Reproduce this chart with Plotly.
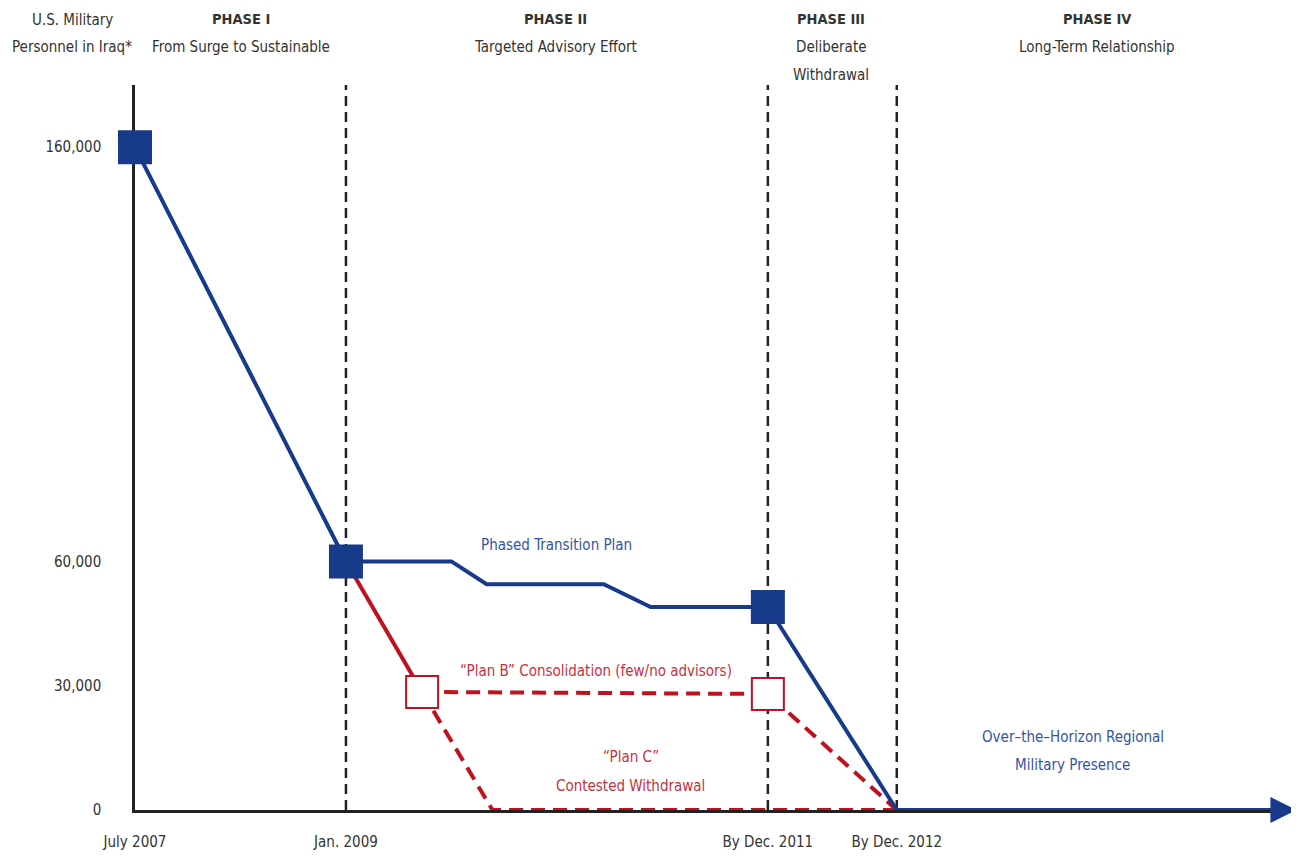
import plotly.graph_objects as go

# ---- data (months since July 2007, troop levels) ----
tick_months = [0, 18, 54, 65]
tick_labels = ["July 2007", "Jan. 2009", "By Dec. 2011", "By Dec. 2012"]
y_ticks = [0, 30000, 60000, 160000]
y_tick_labels = ["0", "30,000", "60,000", "160,000"]

phased_x = [0, 18, 27, 30, 40, 44, 54, 65, 97.5]
phased_y = [160000, 60000, 60000, 54500, 54500, 49000, 49000, 0, 0]
phased_marker_x = [0, 18, 54]
phased_marker_y = [160000, 60000, 49000]
arrow_tip_x = 99.1

planb_solid_x = [18, 24.5]
planb_solid_y = [60000, 28500]
planb_dash_x = [24.5, 54, 65]
planb_dash_y = [28500, 28000, 0]
planb_marker_x = [24.5, 54]
planb_marker_y = [28500, 28000]

planc_x = [24.5, 30.5, 65]
planc_y = [28500, 0, 0]

phase_lines = [18, 54, 65]

BLUE = "#173a8a"
RED = "#c0111f"
TXT = "#333333"
FONT = "DejaVu Sans Condensed, Liberation Sans Narrow, sans-serif"
FS = 15

fig = go.Figure()

fig.add_trace(go.Scatter(x=planb_solid_x, y=planb_solid_y, mode="lines",
                         line=dict(color=RED, width=4), hoverinfo="skip", showlegend=False))
fig.add_trace(go.Scatter(x=planb_dash_x, y=planb_dash_y, mode="lines",
                         line=dict(color=RED, width=4, dash="14px,8px"), hoverinfo="skip", showlegend=False))
fig.add_trace(go.Scatter(x=planc_x, y=planc_y, mode="lines",
                         line=dict(color=RED, width=4, dash="14px,8px"), hoverinfo="skip", showlegend=False,
                         cliponaxis=False))
fig.add_trace(go.Scatter(x=planb_marker_x, y=planb_marker_y, mode="markers",
                         marker=dict(symbol="square", size=32, color="white",
                                     line=dict(color=RED, width=2)),
                         hoverinfo="skip", showlegend=False))
fig.add_trace(go.Scatter(x=phased_x, y=phased_y, mode="lines",
                         line=dict(color=BLUE, width=4), hoverinfo="skip", showlegend=False,
                         cliponaxis=False))
fig.add_trace(go.Scatter(x=phased_marker_x, y=phased_marker_y, mode="markers",
                         marker=dict(symbol="square", size=34, color=BLUE),
                         hoverinfo="skip", showlegend=False, cliponaxis=False))
fig.add_trace(go.Scatter(x=[arrow_tip_x], y=[phased_y[-1]], mode="markers",
                         marker=dict(symbol="arrow-right", size=26, color=BLUE,
                                     line=dict(width=0)),
                         hoverinfo="skip", showlegend=False, cliponaxis=False))

for xv in phase_lines:
    fig.add_shape(type="line", x0=xv, x1=xv, y0=0, y1=1, xref="x", yref="paper",
                  line=dict(color="#222222", width=2.5, dash="10px,6px"), layer="below")

def ann(x, y, text, color=TXT, size=FS, bold=False, xref="x", yref="y"):
    if bold:
        text = "<b>" + text + "</b>"
    fig.add_annotation(x=x, y=y, xref=xref, yref=yref, text=text, showarrow=False,
                       font=dict(family=FONT, size=size, color=color),
                       xanchor="center", yanchor="middle")

# headers (paper y above plot)
ann(-0.0542, 1.0897, "U.S. Military", xref="paper", yref="paper")
ann(-0.0542, 1.0524, "Personnel in Iraq*", xref="paper", yref="paper")
ann(9.05, 1.0910, "PHASE I", bold=True, size=14.5, yref="paper")
ann(9.05, 1.0524, "From Surge to Sustainable", yref="paper")
ann(35.9, 1.0910, "PHASE II", bold=True, size=14.5, yref="paper")
ann(35.9, 1.0524, "Targeted Advisory Effort", yref="paper")
ann(59.4, 1.0910, "PHASE III", bold=True, size=14.5, yref="paper")
ann(59.4, 1.0524, "Deliberate", yref="paper")
ann(59.4, 1.0138, "Withdrawal", yref="paper")
ann(82.1, 1.0910, "PHASE IV", bold=True, size=14.5, yref="paper")
ann(82.1, 1.0524, "Long-Term Relationship", yref="paper")

BLUE_T = "#3553a6"
RED_T = "#c8303d"
ann(36.0, 64000, "Phased Transition Plan", color=BLUE_T)
ann(39.3, 33600, "“Plan B” Consolidation (few/no advisors)", color=RED_T)
ann(42.3, 12800, "“Plan C”", color=RED_T)
ann(42.3, 5800, "Contested Withdrawal", color=RED_T)
ann(80.0, 17600, "Over–the–Horizon Regional", color=BLUE_T)
ann(80.0, 10900, "Military Presence", color=BLUE_T)

fig.update_layout(
    width=1291, height=848,
    margin=dict(l=127, r=2, t=77, b=46),
    paper_bgcolor="white", plot_bgcolor="white",
    font=dict(family=FONT, size=FS, color=TXT),
    showlegend=False,
)
fig.update_xaxes(range=[0, 99.15], tickvals=tick_months, ticktext=tick_labels,
                 showgrid=False, zeroline=False, showline=True, linecolor="#222222",
                 linewidth=2.5, ticks="", ticklabelstandoff=16, layer="below traces",
                 tickfont=dict(family=FONT, size=FS, color=TXT), fixedrange=True)
fig.update_yaxes(range=[0, 175000], tickvals=y_ticks, ticktext=y_tick_labels,
                 showgrid=False, zeroline=False, showline=True, linecolor="#222222",
                 linewidth=2.5, ticks="", ticklabelstandoff=28, layer="below traces",
                 tickfont=dict(family=FONT, size=FS, color=TXT), fixedrange=True)

fig.write_html("out.html")
